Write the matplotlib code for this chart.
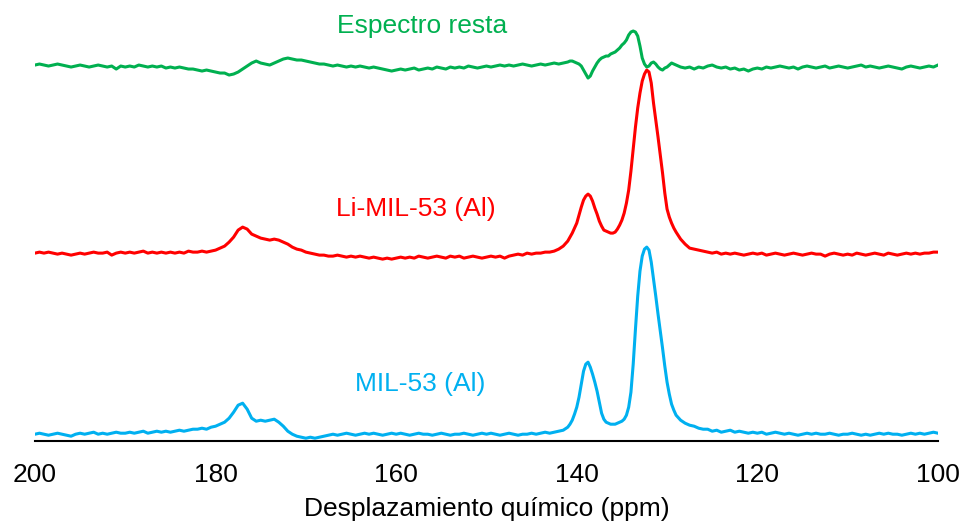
import numpy as np
import matplotlib.pyplot as plt

plt.rcParams['font.family'] = ['Liberation Sans', 'DejaVu Sans']

# chemical shift axis: 0.5 ppm steps, 0.25 ppm steps across the aromatic peaks
ppm = np.concatenate([
    np.arange(200, 141.4, -0.5),
    np.arange(141, 128.9, -0.25),
    np.arange(128.5, 99.9, -0.5),
])

# intensities (arbitrary units)
mil53 = [
    # 200 -> 150.5
    0, 1, 0, -1, 0, 1, 0, -1, -2, 0, 1, 0, 1, 2, 0, 1, 0, 1, 2, 1,
    1, 2, 1, 2, 3, 1, 2, 3, 2, 3, 2, 3, 4, 3, 4, 5, 5, 6, 5, 7,
    8, 10, 12, 16, 22, 29, 31, 25, 16, 13, 14, 13, 14, 15, 12, 8, 3, 0, -2, -3,
    -4, -3, -4, -3, -2, -1, 0, -1, 0, 1, 0, -1, 0, 1, 0, 1, 0, -1, 0, 1,
    0, 1, 0, -1, 0, 1, 0, 0, -1, 0, 1, 0, -1, 0, 0, 1, 0, -1, 0, 1,
    # 150 -> 141.5
    0, 1, 0, -1, 0, 1, 0, -1, 0, 0, 1, 0, 1, 2, 1, 2, 3, 4,
    # 141 -> 129 (0.25)
    7, 10, 14, 20, 27, 37, 50, 63, 70, 72, 67, 60, 52, 43, 32, 21, 15,
    12, 11, 10, 10, 10, 11, 12, 13, 15, 19, 27, 42, 70, 105, 138, 163,
    178, 185, 187, 184, 172, 155, 138, 120, 103, 86, 68, 52, 40, 30, 24, 19,
    # 128.5 -> 100
    14, 11, 9, 8, 6, 5, 5, 3, 4, 2, 3, 4, 2, 3, 2, 1, 2,
    1, 2, 0, 1, 2, 1, 0, 1, 0, -1, 0, 1, 0, 1, 0, 0, 1, 0, -1, 0,
    0, 1, 0, -1, 0, -1, 0, 1, 0, 1, 0, 0, -1, 0, 1, 0, 1, 0, 1, 2,
    1,
]

li_mil53 = [
    0, 1, 0, 1, 0, -1, 0, -1, -2, -1, 0, -1, 0, 1, 0, 0, 1, -2, 0, 1,
    0, 1, 0, 1, 2, 0, 1, 0, 1, 0, 1, 0, 1, 0, 2, 1, 1, 2, 1, 2,
    3, 5, 7, 11, 16, 23, 26, 24, 19, 17, 15, 14, 13, 14, 13, 11, 9, 6, 4, 3,
    1, 0, -1, -2, -2, -3, -3, -2, -3, -4, -3, -4, -3, -4, -5, -4, -5, -6, -5, -6,
    -5, -4, -5, -4, -5, -3, -4, -5, -4, -3, -4, -5, -3, -4, -3, -5, -4, -3, -4, -5,
    -4, -3, -4, -3, -5, -3, -2, -1, -2, 0, -1, 0, 0, 1, 1, 2, 4, 7,
    12, 16, 20, 25, 30, 38, 46, 53, 57, 59, 57, 52, 45, 39, 32, 27, 23,
    22, 21, 20, 20, 21, 24, 28, 33, 40, 50, 63, 82, 104, 126, 145, 160,
    172, 179, 183, 181, 170, 150, 133, 116, 98, 80, 60, 44, 36, 30, 25, 21,
    14, 9, 5, 4, 3, 2, 1, 0, 1, -1, 0, -1, 0, -1, -2, -1, 0,
    -1, 0, -2, -1, 0, -1, -2, -1, 0, -1, -2, -1, 0, -1, -1, -3, -1, 0, -1, -2,
    -1, -2, 0, -1, -2, -1, 0, -1, -2, 0, -1, -2, -1, 0, -1, 0, -1, 0, 0, 1,
    1,
]

resta = [
    1, 2, 1, 0, 1, 2, 1, 0, -1, 0, 1, 0, -1, 0, 1, 0, -1, 0, -3, 0,
    -1, 0, -1, 1, 0, -1, 0, -1, 0, -2, -1, -2, -1, -2, -3, -3, -4, -5, -4, -5,
    -6, -7, -7, -9, -8, -6, -3, 0, 3, 5, 3, 2, 1, 3, 5, 7, 8, 7, 6, 6,
    5, 4, 3, 2, 2, 1, 0, 1, 0, -1, 0, -1, 0, -1, -2, -1, -2, -3, -4, -5,
    -4, -3, -4, -3, -2, -4, -3, -2, -3, -1, -2, -3, -1, -2, -1, -2, 0, -1, -2, -1,
    0, -1, 0, 1, 0, 1, 0, 1, 2, 1, 0, 1, 2, 1, 2, 3, 2, 3,
    4, 5, 5, 4, 3, 2, 0, -4, -8, -12, -10, -5, -1, 3, 6, 8, 9,
    10, 10, 12, 13, 14, 16, 18, 21, 23, 26, 31, 34, 35, 34, 30, 20,
    8, 2, -1, 0, 3, 4, 2, -1, -3, -4, -2, -1, 1, 3, 2, 1,
    -1, -2, -1, -3, -1, -2, 0, 1, -1, -2, -1, -3, -2, -4, -3, -5, -3,
    -2, -3, -1, -2, -1, 0, -1, -2, -1, -3, -1, 0, -1, -2, -1, 0, -2, -1, 0, -1,
    -2, -1, 0, 1, -1, 0, -1, -2, -1, 0, -1, -2, -3, -1, 0, -1, -2, -1, 0, -1,
    1,
]

labels = ["MIL-53 (Al)", "Li-MIL-53 (Al)", "Espectro resta"]

# stacking offsets, colours, label spots
offsets = [7, 188, 375]
colors = ["#00b0f0", "#ff0000", "#00b050"]
label_pos = [(157.3, 57), (157.8, 232), (157.1, 415)]

fig = plt.figure(figsize=(9.63, 5.24), dpi=100)
ax = fig.add_axes([0.0363, 0.158, 0.9377, 0.842])

for y, off, c, lab, (lx, ly) in zip([mil53, li_mil53, resta], offsets, colors, labels, label_pos):
    ax.plot(ppm, np.array(y) + off, color=c, lw=2.2)
    ax.text(lx, ly, lab, color=c, fontsize=19, ha="center", va="center")

ax.set_xlim(200, 100)
ax.set_ylim(0, 441)
ax.set_xticks([200, 180, 160, 140, 120, 100])
ax.set_yticks([])
ax.tick_params(axis="x", length=0, labelsize=19, pad=16)
for s in ["left", "right", "top"]:
    ax.spines[s].set_visible(False)
ax.spines["bottom"].set_linewidth(1.5)
ax.set_xlabel("Desplazamiento químico (ppm)", fontsize=19, labelpad=7)

fig.savefig("out.png", dpi=100)
